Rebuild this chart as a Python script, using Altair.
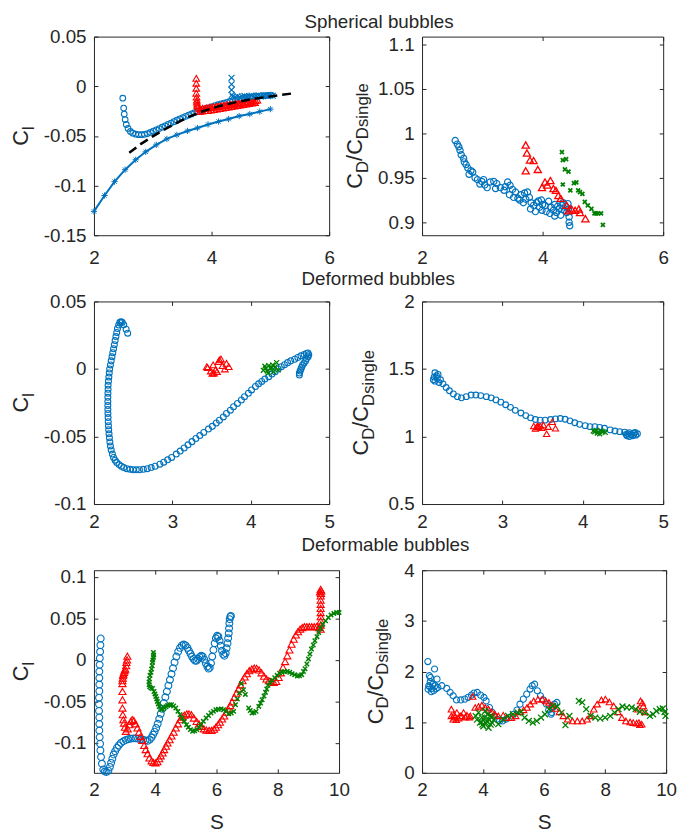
import altair as alt
import pandas as pd

BLUE = "#0072BD"
RED = "#FF0000"
GREEN = "#008000"
INK = "#262626"
FONT = "Liberation Sans"

# ---------------- Panel 1 : Spherical bubbles, C_l ----------------
p1_star_S = [2.00, 2.18, 2.35, 2.53, 2.71, 2.88, 3.06, 3.24, 3.41, 3.59, 3.76, 3.94, 4.12, 4.29, 4.47, 4.65, 4.82, 5.00]
p1_star_C = [-0.126, -0.110, -0.096, -0.084, -0.074, -0.066, -0.059, -0.053, -0.049, -0.045, -0.042, -0.0385, -0.0355, -0.033, -0.030, -0.028, -0.0255, -0.023]

p1_dash_S = [2.6, 2.8, 3.0, 3.2, 3.5, 3.8, 4.1, 4.4, 4.7, 5.0, 5.4]
p1_dash_C = [-0.067, -0.058, -0.0505, -0.0435, -0.034, -0.026, -0.0205, -0.0162, -0.0128, -0.0102, -0.007]

p1_circ_S = [2.49, 2.505, 2.515, 2.53, 2.55, 2.58, 2.62, 2.66, 2.71, 2.76, 2.81, 2.86, 2.91, 2.96, 3.01, 3.06,
             3.11, 3.16, 3.21, 3.26, 3.31, 3.36, 3.41, 3.46, 3.51, 3.56, 3.61, 3.66, 3.71, 3.76, 3.81, 3.86,
             3.91, 3.96, 4.01, 4.06, 4.11, 4.16, 4.21, 4.26, 4.31, 4.36, 4.41, 4.46, 4.51, 4.56, 4.61, 4.66,
             4.71, 4.76, 4.81, 4.86, 4.91, 4.96, 5.01]
p1_circ_C = [-0.012, -0.022, -0.028, -0.0335, -0.0385, -0.0425, -0.0455, -0.0472, -0.0482, -0.0487, -0.0488, -0.0484, -0.0476, -0.0465, -0.0452, -0.0439,
             -0.0426, -0.0412, -0.0398, -0.0384, -0.037, -0.0356, -0.0342, -0.0328, -0.0315, -0.0302, -0.029, -0.0278, -0.0266, -0.0255, -0.0244, -0.0234,
             -0.0224, -0.0214, -0.0204, -0.0195, -0.0186, -0.0177, -0.0169, -0.0161, -0.0153, -0.0146, -0.0139, -0.0132, -0.0126, -0.012, -0.0115, -0.011,
             -0.0106, -0.0102, -0.0099, -0.0096, -0.0093, -0.0091, -0.0089]

p1_tri_S = [3.74, 3.74, 3.74, 3.74, 3.745, 3.75, 3.75, 3.755, 3.76, 3.77,
            3.79, 3.82, 3.85, 3.88, 3.91, 3.94, 3.97, 4.00, 4.03, 4.06, 4.09, 4.12, 4.15, 4.18, 4.21, 4.24,
            4.27, 4.30, 4.33, 4.36, 4.39, 4.42, 4.45, 4.48, 4.51, 4.54, 4.57, 4.60, 4.63, 4.66, 4.69, 4.72, 4.75, 4.78,
            3.80, 3.84, 3.89, 3.94, 3.99, 4.04, 4.09, 4.14, 4.19, 4.24, 4.29, 4.34, 4.39, 4.44, 4.49, 4.54, 4.59, 4.64, 4.69, 4.74]
p1_tri_C = [0.008, 0.003, -0.002, -0.007, -0.011, -0.014, -0.016, -0.018, -0.0195, -0.021,
            -0.0225, -0.023, -0.022, -0.0225, -0.0215, -0.022, -0.021, -0.0215, -0.0205, -0.021, -0.020, -0.0205, -0.0195, -0.020, -0.019, -0.0195,
            -0.0185, -0.019, -0.018, -0.0185, -0.0175, -0.018, -0.017, -0.0175, -0.0165, -0.017, -0.016, -0.0165, -0.0155, -0.016, -0.015, -0.0152, -0.0145, -0.014,
            -0.0255, -0.025, -0.0245, -0.0245, -0.024, -0.0235, -0.023, -0.0225, -0.022, -0.0215, -0.021, -0.0205, -0.020, -0.0195, -0.019, -0.0185, -0.018, -0.0175, -0.017, -0.0165]

p1_x_S = [4.34, 4.34, 4.34, 4.345, 4.36, 4.40, 4.44, 4.48, 4.52, 4.56, 4.60, 4.64, 4.68, 4.72, 4.76, 4.80, 4.84, 4.88, 4.92, 4.96, 5.00, 5.04]
p1_x_C = [0.0085, 0.002, -0.0037, -0.0087, -0.0105, -0.011, -0.0102, -0.0112, -0.0104, -0.0098, -0.0108, -0.0101, -0.0095, -0.0105, -0.0098, -0.0092, -0.0102, -0.0096, -0.0091, -0.0099, -0.0093, -0.0095]

# ---------------- Panel 2 : Spherical bubbles, CD/CDsingle ----------------
p2_circ_S = [2.55, 2.585, 2.61, 2.63, 2.65, 2.69, 2.70, 2.73, 2.76, 2.78, 2.81, 2.84, 2.88, 2.92, 2.96, 2.99, 3.02, 3.04, 3.08,
             3.13, 3.19, 3.22, 3.24, 3.30, 3.36, 3.38, 3.42, 3.45, 3.46, 3.50, 3.52, 3.55, 3.59, 3.62, 3.64, 3.68, 3.70,
             3.72, 3.75, 3.78, 3.80, 3.81, 3.85, 3.88, 3.90, 3.93, 3.95, 3.98, 3.99, 4.00, 4.04, 4.06, 4.10, 4.12, 4.14,
             4.18, 4.20, 4.20, 4.23, 4.25, 4.28, 4.30, 4.32, 4.34, 4.36, 4.38, 4.40, 4.42, 4.43, 4.44, 4.44, 4.45]
p2_circ_C = [0.992, 0.988, 0.985, 0.981, 0.976, 0.972, 0.968, 0.965, 0.961, 0.954, 0.958, 0.9565, 0.950, 0.948, 0.943, 0.946, 0.948, 0.942, 0.939,
             0.9453, 0.946, 0.938, 0.9435, 0.939, 0.936, 0.940, 0.9453, 0.931, 0.9416, 0.937, 0.928, 0.934, 0.927, 0.925, 0.931, 0.922, 0.933,
             0.926, 0.934, 0.928, 0.915, 0.922, 0.919, 0.912, 0.922, 0.924, 0.917, 0.925, 0.9135, 0.920, 0.919, 0.912, 0.9236, 0.910, 0.917,
             0.9135, 0.920, 0.907, 0.911, 0.918, 0.9154, 0.908, 0.919, 0.922, 0.9135, 0.918, 0.911, 0.921, 0.915, 0.906, 0.900, 0.896]

p2_tri_S = [3.72, 3.74, 3.79, 3.85, 3.72, 3.92, 3.99, 4.04, 4.08, 4.13, 4.18, 4.22, 4.26, 4.30, 4.40, 4.43, 4.48, 4.54, 4.60, 4.62, 4.71]
p2_tri_C = [0.987, 0.978, 0.970, 0.9695, 0.958, 0.9595, 0.939, 0.9453, 0.942, 0.947, 0.938, 0.936, 0.930, 0.927, 0.919, 0.913, 0.915, 0.9135, 0.915, 0.911, 0.904]

p2_x_S = [4.32, 4.335, 4.39, 4.37, 4.43, 4.335, 4.46, 4.52, 4.56, 4.59, 4.62, 4.66, 4.70, 4.75, 4.81, 4.86, 4.89, 4.92, 4.97, 5.00]
p2_x_C = [0.979, 0.970, 0.971, 0.9595, 0.957, 0.9425, 0.936, 0.944, 0.945, 0.936, 0.934, 0.932, 0.923, 0.919, 0.915, 0.910, 0.910, 0.910, 0.910, 0.897]

# ---------------- Panel 3 : Deformed bubbles, C_l ----------------
p3_circ_S = [2.43, 2.41, 2.38, 2.36, 2.345, 2.33, 2.315, 2.30, 2.29, 2.28, 2.27, 2.26, 2.25, 2.24, 2.23, 2.22, 2.21, 2.20, 2.195,
             2.19, 2.185, 2.18, 2.18, 2.178, 2.177, 2.177, 2.177, 2.177, 2.178, 2.18, 2.182, 2.185, 2.188, 2.192, 2.197, 2.203,
             2.21, 2.22, 2.235, 2.25, 2.27, 2.29, 2.32, 2.35, 2.38, 2.42, 2.46, 2.50, 2.54, 2.58, 2.63, 2.68, 2.73, 2.78,
             2.84, 2.89, 2.94, 2.99, 3.05, 3.10, 3.15, 3.20, 3.25, 3.30, 3.35, 3.40, 3.46, 3.51, 3.56, 3.60, 3.65, 3.69,
             3.74, 3.78, 3.83, 3.88, 3.92, 3.97, 4.01, 4.06, 4.10, 4.14, 4.18, 4.23, 4.27, 4.31, 4.35, 4.39, 4.43, 4.47,
             4.51, 4.56, 4.60, 4.64, 4.68, 4.71, 4.73, 4.74, 4.73, 4.71, 4.70, 4.68, 4.66, 4.65, 4.64, 4.63, 4.62, 4.62]
p3_circ_C = [0.0265, 0.0294, 0.0327, 0.0345, 0.035, 0.0345, 0.0325, 0.030, 0.027, 0.024, 0.021, 0.018, 0.015, 0.012, 0.009, 0.006, 0.003, 0.0, -0.003,
             -0.006, -0.009, -0.012, -0.015, -0.018, -0.021, -0.024, -0.027, -0.030, -0.033, -0.036, -0.039, -0.042, -0.045, -0.048, -0.051, -0.054,
             -0.057, -0.060, -0.063, -0.0655, -0.0675, -0.0693, -0.0708, -0.072, -0.073, -0.0738, -0.0743, -0.0746, -0.0747, -0.0746, -0.0743, -0.0738, -0.073, -0.072,
             -0.0705, -0.069, -0.0673, -0.0655, -0.063, -0.0608, -0.0585, -0.0562, -0.0538, -0.0515, -0.0493, -0.047, -0.0445, -0.0425, -0.040, -0.038, -0.0355, -0.033,
             -0.0305, -0.028, -0.0255, -0.023, -0.0205, -0.018, -0.0155, -0.013, -0.011, -0.0092, -0.0075, -0.0057, -0.0038, -0.002, 0.0, 0.0017, 0.0032, 0.0047,
             0.006, 0.0072, 0.0085, 0.0097, 0.0107, 0.0115, 0.0118, 0.0105, 0.009, 0.0075, 0.006, 0.0045, 0.003, 0.0015, 0.0, -0.0015, -0.003, -0.0045]

p3_tri_S = [3.44, 3.45, 3.49, 3.51, 3.52, 3.53, 3.55, 3.57, 3.59, 3.60, 3.62, 3.64, 3.67, 3.69, 3.72]
p3_tri_C = [0.0017, 0.001, -0.0015, -0.0032, 0.003, -0.003, -0.0007, -0.002, 0.0054, 0.0067, 0.0074, 0.0025, 0.0, 0.0042, 0.0017]

p3_x_S = [4.16, 4.18, 4.19, 4.21, 4.22, 4.23, 4.25, 4.27, 4.28, 4.29, 4.31, 4.33, 4.35]
p3_x_C = [-0.001, 0.002, 0.0005, -0.0015, -0.003, 0.0025, 0.0005, 0.001, 0.003, -0.002, 0.0015, 0.0047, -0.0007]

# ---------------- Panel 4 : Deformed bubbles, CD/CDsingle ----------------
p4_circ_S = [2.16, 2.15, 2.16, 2.20, 2.19, 2.23, 2.21, 2.18, 2.14, 2.26, 2.30, 2.34, 2.39, 2.44, 2.49, 2.55, 2.61, 2.67,
             2.73, 2.80, 2.86, 2.92, 2.98, 3.04, 3.10, 3.16, 3.23, 3.29, 3.35, 3.41, 3.47, 3.53, 3.60, 3.66, 3.72, 3.78,
             3.84, 3.90, 3.96, 4.03, 4.09, 4.15, 4.21, 4.27, 4.34, 4.40, 4.46, 4.52, 4.58, 4.64, 4.68, 4.66, 4.62, 4.58,
             4.55, 4.54, 4.60, 4.65, 4.56, 4.63]
p4_circ_C = [1.472, 1.44, 1.41, 1.46, 1.43, 1.42, 1.40, 1.45, 1.42, 1.39, 1.363, 1.339, 1.315, 1.295, 1.286, 1.295, 1.307, 1.307,
             1.303, 1.295, 1.286, 1.271, 1.254, 1.235, 1.216, 1.194, 1.174, 1.155, 1.138, 1.126, 1.121, 1.121, 1.126, 1.13, 1.133, 1.128,
             1.116, 1.102, 1.09, 1.08, 1.073, 1.073, 1.068, 1.061, 1.049, 1.041, 1.036, 1.032, 1.029, 1.025, 1.02, 1.01, 1.005, 1.0,
             1.005, 1.015, 1.015, 1.03, 1.02, 1.012]

p4_tri_S = [3.39, 3.41, 3.43, 3.44, 3.45, 3.47, 3.49, 3.51, 3.55, 3.57, 3.62, 3.66]
p4_tri_C = [1.078, 1.06, 1.073, 1.08, 1.07, 1.078, 1.065, 1.085, 1.02, 1.073, 1.109, 1.061]

p4_x_S = [4.13, 4.15, 4.17, 4.18, 4.19, 4.21, 4.23, 4.25, 4.28]
p4_x_C = [1.04, 1.035, 1.045, 1.025, 1.03, 1.02, 1.04, 1.035, 1.03]

# ---------------- Panel 5 : Deformable bubbles, C_l ----------------
p5_circ_S = [2.22, 2.21, 2.20, 2.19, 2.185, 2.175, 2.175, 2.175, 2.175, 2.165, 2.165, 2.165, 2.175, 2.175, 2.175, 2.185, 2.20, 2.21, 2.23, 2.26, 2.305,
             2.35, 2.41, 2.47, 2.52, 2.56, 2.60, 2.64, 2.69, 2.75, 2.81, 2.88, 2.96, 3.04, 3.12, 3.20, 3.28, 3.36, 3.44, 3.52, 3.60, 3.68, 3.75,
             3.82, 3.88, 3.93, 3.98, 4.03, 4.08, 4.13, 4.18, 4.23, 4.28, 4.33, 4.38, 4.43, 4.48, 4.53, 4.58, 4.63, 4.69, 4.75, 4.81, 4.87, 4.93,
             4.99, 5.05, 5.10, 5.15, 5.20, 5.25, 5.30, 5.35, 5.40, 5.45, 5.50, 5.55, 5.60, 5.65, 5.70, 5.74, 5.78, 5.82, 5.86, 5.90, 5.94, 5.98,
             6.02, 6.06, 6.10, 6.14, 6.18, 6.22, 6.26, 6.30, 6.33, 6.36, 6.38, 6.40, 6.41, 6.42, 6.43, 6.45, 6.47]
p5_circ_C = [0.0258, 0.0178, 0.0099, 0.002, -0.0059, -0.0139, -0.0218, -0.0297, -0.0376, -0.0455, -0.0535, -0.0614, -0.0693, -0.0772, -0.0851, -0.0931, -0.101, -0.109, -0.117, -0.125, -0.132,
             -0.1345, -0.135, -0.1335, -0.129, -0.124, -0.119, -0.114, -0.110, -0.106, -0.103, -0.100, -0.098, -0.0965, -0.0955, -0.095, -0.0945, -0.0945, -0.095, -0.0955, -0.0962, -0.097, -0.0975,
             -0.096, -0.0935, -0.090, -0.0865, -0.082, -0.077, -0.071, -0.065, -0.059, -0.052, -0.045, -0.038, -0.031, -0.024, -0.017, -0.010, -0.003, 0.004, 0.010, 0.0145, 0.0175, 0.0185,
             0.0175, 0.0145, 0.011, 0.0075, 0.004, 0.001, -0.001, -0.001, 0.001, 0.0035, 0.005, 0.004, 0.0005, -0.004, -0.008, -0.0105, -0.0095, -0.004, 0.004, 0.012, 0.020, 0.026,
             0.029, 0.028, 0.023, 0.017, 0.011, 0.0065, 0.005, 0.008, 0.014, 0.020, 0.026, 0.032, 0.038, 0.044, 0.049, 0.052, 0.053]

p5_tri_S = [3.09, 3.08, 3.06, 3.05, 3.02, 3.00, 2.98, 2.96, 2.95, 2.94, 2.93, 2.93, 2.93, 2.93, 2.93, 2.94, 2.96, 2.98, 3.01, 3.04,
            3.10, 3.15, 3.20, 3.25, 3.30, 3.36, 3.42, 3.47, 3.53, 3.58, 3.64, 3.69, 3.75, 3.81, 3.88, 3.94, 4.01, 4.07, 4.13, 4.18,
            4.24, 4.29, 4.35, 4.40, 4.47, 4.53, 4.60, 4.67, 4.74, 4.81, 4.88, 4.95, 5.03, 5.10, 5.18, 5.26, 5.35, 5.43, 5.51, 5.59,
            5.67, 5.76, 5.84, 5.92, 5.98, 6.05, 6.11, 6.18, 6.25, 6.32, 6.38, 6.45, 6.51, 6.58, 6.65, 6.72, 6.78, 6.85, 6.92, 6.99,
            7.07, 7.15, 7.23, 7.31, 7.39, 7.47, 7.55, 7.63, 7.71, 7.79, 7.87, 7.95, 8.03, 8.10, 8.17, 8.24, 8.31, 8.38, 8.45, 8.52,
            8.59, 8.66, 8.73, 8.80, 8.87, 8.95, 9.03, 9.11, 9.19, 9.27, 9.35, 9.40, 9.40, 9.40, 9.40, 9.40, 9.40, 9.40, 9.40, 9.40,
            9.41, 9.42, 9.40, 9.38]
p5_tri_C = [0.0044, 0.0, -0.003, -0.007, -0.011, -0.013, -0.015, -0.017, -0.019, -0.022, -0.025, -0.0285, -0.038, -0.048, -0.058, -0.066, -0.072, -0.076, -0.081, -0.086,
            -0.083, -0.078, -0.074, -0.072, -0.073, -0.077, -0.082, -0.087, -0.092, -0.097, -0.103, -0.108, -0.113, -0.118, -0.1215, -0.1235, -0.124, -0.1225, -0.119, -0.1155,
            -0.112, -0.108, -0.104, -0.100, -0.096, -0.0915, -0.087, -0.082, -0.077, -0.072, -0.069, -0.0665, -0.065, -0.065, -0.066, -0.070, -0.074, -0.077, -0.080, -0.083,
            -0.0845, -0.085, -0.085, -0.0835, -0.081, -0.078, -0.075, -0.071, -0.0675, -0.063, -0.059, -0.055, -0.0505, -0.045, -0.040, -0.035, -0.030, -0.025, -0.0205, -0.0165,
            -0.013, -0.011, -0.0098, -0.0102, -0.012, -0.0155, -0.0195, -0.023, -0.025, -0.0265, -0.027, -0.026, -0.021, -0.0155, -0.009, -0.002, 0.005, 0.012, 0.019, 0.025,
            0.030, 0.034, 0.037, 0.039, 0.040, 0.040, 0.040, 0.040, 0.040, 0.040, 0.039, 0.037, 0.042, 0.047, 0.052, 0.057, 0.062, 0.067, 0.072, 0.077,
            0.080, 0.083, 0.085, 0.082]

p5_x_S = [3.94, 3.95, 3.94, 3.92, 3.91, 3.90, 3.88, 3.86, 3.83, 3.81, 3.80, 3.80, 3.82, 3.86, 3.91, 3.96, 3.99, 4.02, 4.05, 4.07,
          4.10, 4.13, 4.18, 4.23, 4.29, 4.35, 4.40, 4.47, 4.53, 4.60, 4.67, 4.74, 4.81, 4.88, 4.95, 5.02, 5.08, 5.15, 5.22, 5.29,
          5.36, 5.43, 5.49, 5.57, 5.66, 5.74, 5.82, 5.90, 5.98, 6.06, 6.15, 6.23, 6.31, 6.40, 6.48, 6.56, 6.62, 6.68, 6.75, 6.81,
          6.88, 6.94, 7.05, 7.10, 7.16, 7.22, 7.29, 7.38, 7.44, 7.49, 7.55, 7.60, 7.64, 7.68, 7.75, 7.81, 7.90, 7.98, 8.06, 8.14,
          8.22, 8.31, 8.39, 8.47, 8.55, 8.64, 8.71, 8.78, 8.84, 8.89, 8.95, 9.00, 9.05, 9.10, 9.16, 9.21, 9.28, 9.34, 9.40, 9.47,
          9.56, 9.65, 9.74, 9.83, 9.92, 10.0]
p5_x_C = [0.009, 0.006, 0.003, 0.0, -0.003, -0.007, -0.011, -0.015, -0.0186, -0.023, -0.0265, -0.030, -0.0325, -0.034, -0.0344, -0.038, -0.041, -0.044, -0.047, -0.050,
          -0.053, -0.056, -0.0595, -0.0595, -0.058, -0.0565, -0.055, -0.054, -0.054, -0.0555, -0.058, -0.062, -0.066, -0.070, -0.074, -0.078, -0.081, -0.084, -0.086, -0.0855,
          -0.084, -0.081, -0.078, -0.074, -0.070, -0.067, -0.064, -0.062, -0.060, -0.0595, -0.059, -0.060, -0.062, -0.065, -0.064, -0.062, -0.054, -0.047, -0.040, -0.0285,
          -0.036, -0.0416, -0.058, -0.061, -0.064, -0.0635, -0.062, -0.056, -0.052, -0.048, -0.0435, -0.039, -0.035, -0.0305, -0.0275, -0.0246, -0.0215, -0.0186, -0.016, -0.0146,
          -0.014, -0.0139, -0.015, -0.0166, -0.018, -0.0194, -0.019, -0.0178, -0.014, -0.0107, -0.005, 0.0012, 0.007, 0.013, 0.018, 0.023, 0.028, 0.033, 0.038, 0.043,
          0.047, 0.051, 0.054, 0.056, 0.057, 0.057]

# ---------------- Panel 6 : Deformable bubbles, CD/CDsingle ----------------
p6_circ_S = [2.19, 2.24, 2.27, 2.22, 2.32, 2.43, 2.41, 2.49, 2.52, 2.30, 2.20, 2.25, 2.35, 2.38, 2.46, 2.28, 2.65, 2.81, 2.92, 3.02,
             3.13, 3.27, 3.40, 3.51, 3.62, 3.70, 3.81, 3.92, 4.03, 4.10, 4.21, 4.29, 4.37, 4.46, 4.54, 4.64, 4.75, 4.86, 5.00, 5.11,
             5.21, 5.32, 5.43, 5.54, 5.61, 5.69, 5.78, 5.88, 5.97, 6.08, 6.15, 6.23, 6.34, 6.42, 6.30, 6.25]
p6_circ_C = [2.196, 1.918, 1.80, 1.72, 1.667, 1.72, 2.05, 1.85, 1.686, 1.60, 1.65, 1.70, 1.75, 1.62, 1.66, 1.88, 1.72, 1.667, 1.59, 1.52,
             1.44, 1.44, 1.455, 1.49, 1.534, 1.574, 1.587, 1.534, 1.488, 1.42, 1.29, 1.20, 1.12, 1.058, 1.025, 1.025, 1.058, 1.09, 1.157, 1.24,
             1.356, 1.455, 1.554, 1.653, 1.72, 1.75, 1.62, 1.52, 1.44, 1.356, 1.24, 1.157, 1.356, 1.39, 1.30, 1.19]

p6_tri_S = [2.96, 2.96, 3.02, 3.05, 3.08, 3.12, 3.14, 3.20, 3.25, 3.30, 3.36, 3.42, 3.47, 3.55, 3.58, 3.66, 3.74, 3.85, 3.96, 4.07,
            4.18, 4.29, 4.39, 4.50, 4.66, 4.77, 4.93, 5.07, 5.20, 5.33, 5.44, 5.55, 5.66, 5.80, 5.94, 6.05, 6.16, 6.26, 6.37, 6.50,
            6.63, 6.77, 6.93, 7.09, 7.25, 7.41, 7.52, 7.63, 7.74, 7.88, 8.01, 8.14, 8.28, 8.42, 8.55, 8.68, 8.82, 8.92, 9.03, 9.11,
            9.16, 9.22, 9.25, 9.08, 9.30, 9.20, 9.14]
p6_tri_C = [1.257, 1.124, 1.058, 1.15, 1.10, 1.05, 1.19, 1.08, 1.124, 1.12, 1.19, 1.10, 1.138, 1.10, 1.124, 1.508, 1.29, 1.31, 1.336, 1.29,
            1.257, 1.204, 1.157, 1.124, 1.138, 1.09, 1.09, 1.124, 1.204, 1.243, 1.29, 1.356, 1.42, 1.455, 1.455, 1.42, 1.39, 1.336, 1.27, 1.204,
            1.124, 1.058, 1.025, 1.025, 1.025, 1.058, 1.124, 1.257, 1.356, 1.44, 1.455, 1.40, 1.32, 1.204, 1.09, 1.025, 1.005, 0.992, 0.979, 0.992,
            1.42, 1.38, 1.32, 1.257, 1.204, 0.96, 0.95]

p6_x_S = [3.76, 3.80, 3.85, 3.90, 3.95, 3.96, 3.98, 4.01, 4.05, 4.07, 4.10, 4.12, 4.15, 4.18, 4.20, 4.23, 4.25, 4.29, 4.30, 4.35,
          4.50, 4.66, 4.82, 4.98, 5.14, 5.25, 5.36, 5.50, 5.63, 5.76, 5.90, 6.03, 6.16, 6.29, 6.43, 6.57, 6.70, 6.83, 7.14, 7.25,
          7.38, 7.52, 7.68, 7.84, 8.00, 8.17, 8.31, 8.44, 8.57, 8.71, 8.87, 9.00, 9.14, 9.30, 9.47, 9.57, 9.68, 9.79, 9.89, 9.95, 9.98]
p6_x_C = [1.12, 1.05, 1.19, 0.99, 1.0, 1.09, 0.95, 0.92, 1.10, 1.22, 0.98, 1.02, 1.15, 0.89, 1.05, 1.12, 0.95, 0.99, 1.10, 1.05,
          0.96, 1.058, 1.124, 1.157, 1.19, 1.204, 1.09, 1.025, 0.992, 1.025, 1.09, 1.157, 1.257, 1.32, 1.31, 1.19, 0.94, 1.124, 1.42, 1.39,
          1.257, 1.124, 1.09, 1.07, 1.09, 1.124, 1.19, 1.257, 1.31, 1.29, 1.29, 1.257, 1.204, 1.19, 1.124, 1.157, 1.22, 1.257, 1.27, 1.20, 1.124]

# ---------------- axes ticks ----------------
x_ticks_r1 = [2, 4, 6]
x_ticks_r2 = [2, 3, 4, 5]
x_ticks_r3 = [2, 4, 6, 8, 10]
y_ticks_p1 = [-0.15, -0.1, -0.05, 0, 0.05]
y_ticks_p2 = [0.9, 0.95, 1, 1.05, 1.1]
y_ticks_p3 = [-0.1, -0.05, 0, 0.05]
y_ticks_p4 = [0.5, 1, 1.5, 2]
y_ticks_p5 = [-0.1, -0.05, 0, 0.05, 0.1]
y_ticks_p6 = [0, 1, 2, 3, 4]

row_titles = ["Spherical bubbles", "Deformed bubbles", "Deformable bubbles"]

X_PATH = "M-1,-1L1,1M-1,1L1,-1"
STAR_PATH = "M-1,0L1,0M0,-1L0,1M-0.7,-0.7L0.7,0.7M-0.7,0.7L0.7,-0.7"

AW = {"C": 0.722, "D": 0.722, "l": 0.222, "/": 0.278, "s": 0.5, "i": 0.222,
      "n": 0.556, "g": 0.556, "e": 0.556}
FM = 22   # main label size
FS = 17   # subscript size
TICK_FS = 19

ONE = pd.DataFrame({"k": [0]})


def df(s, c):
    return pd.DataFrame({"S": s, "C": c})


def text_layer(txt, x, y, size, angle=0, align="left", dx=0, dy=0):
    kw = dict(text=txt, fontSize=size, font=FONT, color=INK, align=align,
              baseline="alphabetic", dx=dx, dy=dy)
    if angle:
        kw["angle"] = angle
    return alt.Chart(ONE).mark_text(**kw).encode(x=alt.value(x), y=alt.value(y))


def ylabel_layers(pieces, x0, h):
    total = sum(sum(AW[ch] for ch in t) * (FS if sub else FM) for t, sub in pieces)
    y0 = h / 2 + total / 2
    out = []
    adv = 0.0
    for t, sub in pieces:
        size = FS if sub else FM
        out.append(text_layer(t, x0, y0, size, angle=270, dx=adv, dy=(6 if sub else 0)))
        adv += sum(AW[ch] for ch in t) * size
    return out


CL = [("C", False), ("l", True)]
CD = [("C", False), ("D", True), ("/C", False), ("Dsingle", True)]


def panel(series, xdom, ydom, xt, yt, w, h, xpad, ypad, ylab, ylab_x,
          xtitle=None, title=None, title_x=0, title_y=0):
    xs = alt.Scale(domain=xdom, nice=False, zero=False)
    ys = alt.Scale(domain=ydom, nice=False, zero=False)
    common = dict(domain=False, grid=False, tickSize=4, offset=-4, tickColor=INK,
                  labelOverlap=False, labelFlush=False, labelExpr="'' + datum.value",
                  labelFont=FONT, labelFontSize=TICK_FS, labelColor=INK, minExtent=0)
    xkw = dict(common, values=xt, orient="bottom", labelPadding=xpad)
    if xtitle:
        xkw.update(title=xtitle, titleFont=FONT, titleFontSize=21, titleFontWeight="normal",
                   titleColor=INK, titlePadding=12)
    else:
        xkw.update(title=None)
    xax = alt.Axis(**xkw)
    yax = alt.Axis(**dict(common, values=yt, orient="left", labelPadding=ypad, title=None))
    layers = []
    for d, kind, color, size, sw in series:
        base = alt.Chart(d)
        if kind == "line":
            m = base.mark_line(color=color, strokeWidth=sw)
        elif kind == "dash":
            m = base.mark_line(color=color, strokeWidth=sw, strokeDash=[9, 5])
        else:
            m = base.mark_point(shape=kind, filled=False, color=color, size=size,
                                strokeWidth=sw, opacity=1)
        layers.append(m.encode(x=alt.X("S:Q", scale=xs, axis=xax),
                               y=alt.Y("C:Q", scale=ys, axis=yax)))
    layers += ylabel_layers(ylab, ylab_x, h)
    if title:
        layers.append(text_layer(title, title_x, title_y, 19))
    frame_ax = dict(domain=False, grid=False, tickSize=4, offset=-4, tickColor=INK,
                    labels=False, title=None, minExtent=0, maxExtent=4)
    frame = alt.Chart(series[0][0]).mark_point(opacity=0).encode(
        x=alt.X("S:Q", scale=xs, axis=alt.Axis(values=xt, orient="top", **frame_ax)),
        y=alt.Y("C:Q", scale=ys, axis=alt.Axis(values=yt, orient="right", **frame_ax)),
    )
    return alt.layer(alt.layer(*layers), frame).resolve_axis(
        x="independent", y="independent").properties(width=w, height=h)


p1 = panel([
    (df(p1_star_S, p1_star_C), "line", BLUE, 0, 2),
    (df(p1_star_S, p1_star_C), STAR_PATH, BLUE, 40, 1),
    (df(p1_circ_S, p1_circ_C), "circle", BLUE, 33, 1.1),
    (df(p1_tri_S, p1_tri_C), "triangle-up", RED, 45, 1.1),
    (df(p1_x_S, p1_x_C), X_PATH, BLUE, 36, 1.2),
    (df(p1_dash_S, p1_dash_C), "dash", "black", 0, 2.5),
], [2, 6], [-0.15, 0.05], x_ticks_r1, y_ticks_p1, 238, 201, 14, 8, CL, -67)

p2 = panel([
    (df(p2_circ_S, p2_circ_C), "circle", BLUE, 40, 1.2),
    (df(p2_tri_S, p2_tri_C), "triangle-up", RED, 52, 1.3),
    (df(p2_x_S, p2_x_C), X_PATH, GREEN, 16, 1.8),
], [2, 6], [0.8854, 1.109], x_ticks_r1, y_ticks_p2, 244, 201, 14, 8, CD, -61,
    title=row_titles[0], title_x=-119, title_y=-9)

p3 = panel([
    (df(p3_circ_S, p3_circ_C), "circle", BLUE, 36, 1.1),
    (df(p3_tri_S, p3_tri_C), "triangle-up", RED, 45, 1.1),
    (df(p3_x_S, p3_x_C), X_PATH, GREEN, 25, 1.3),
], [2, 5], [-0.1, 0.05], x_ticks_r2, y_ticks_p3, 238, 205, 9, 8, CL, -67)

p4 = panel([
    (df(p4_circ_S, p4_circ_C), "circle", BLUE, 34, 1.1),
    (df(p4_tri_S, p4_tri_C), "triangle-up", RED, 40, 1.1),
    (df(p4_x_S, p4_x_C), X_PATH, GREEN, 25, 1.3),
], [2, 5], [0.5, 2], x_ticks_r2, y_ticks_p4, 244, 205, 9, 8, CD, -55,
    title=row_titles[1], title_x=-122, title_y=-17)

p5 = panel([
    (df(p5_circ_S, p5_circ_C), "circle", BLUE, 48, 1.1),
    (df(p5_tri_S, p5_tri_C), "triangle-up", RED, 52, 1.1),
    (df(p5_x_S, p5_x_C), X_PATH, GREEN, 20, 1.5),
], [2, 10], [-0.136, 0.108], x_ticks_r3, y_ticks_p5, 248, 205, 8, 8, CL, -67, xtitle="S")

p6 = panel([
    (df(p6_circ_S, p6_circ_C), "circle", BLUE, 38, 1.1),
    (df(p6_tri_S, p6_tri_C), "triangle-up", RED, 42, 1.1),
    (df(p6_x_S, p6_x_C), X_PATH, GREEN, 36, 1.3),
], [2, 10], [0, 4], x_ticks_r3, y_ticks_p6, 247, 205, 8, 8, CD, -40, xtitle="S",
    title=row_titles[2], title_x=-122, title_y=-19)

chart = alt.concat(
    p1, p2, p3, p4, p5, p6, columns=2,
    spacing={"row": 67, "column": 84}, bounds="flush"
).properties(
    autosize=alt.AutoSizeParams(type="none"),
    padding={"left": 87, "top": 24, "right": 590, "bottom": 805},
).configure_view(stroke=INK, strokeWidth=1)

chart.save("out.html", embed_options={"renderer": "svg", "actions": False})
